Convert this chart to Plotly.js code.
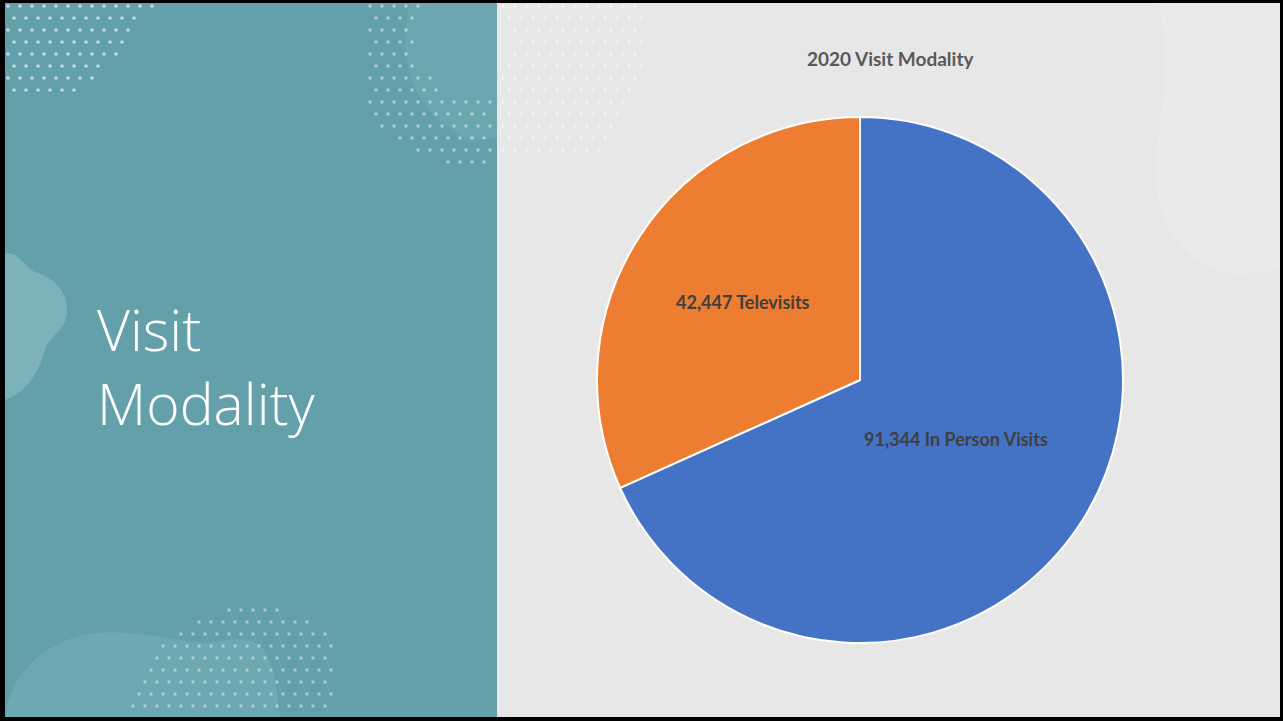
<!DOCTYPE html>
<html>
<head>
<meta charset="utf-8">
<script src="https://cdn.plot.ly/plotly-3.0.1.min.js"></script>
<style>
  html, body { margin: 0; padding: 0; background: #000; }
  #chart { width: 1283px; height: 721px; }
</style>
</head>
<body>
<div id="chart"></div>
<script>
// ---- data ----
const chartTitle = "2020 Visit Modality";
const slideTitle = ["Visit", "Modality"];
const categories = ["In Person Visits", "Televisits"];
const visitCounts = [91344, 42447];
const sliceColors = ["#4472C4", "#ED7D31"];

// ---- layout helpers (pixel -> paper) ----
const W = 1283, H = 721;
const px = x => x / W;
const py = y => 1 - y / H;

const shapes = [];
// slide border / backgrounds
shapes.push({type: "rect", xref: "paper", yref: "paper", x0: 0, x1: 1, y0: 0, y1: 1, fillcolor: "#000000", line: {width: 0}, layer: "below"});
shapes.push({type: "rect", xref: "paper", yref: "paper", x0: px(5), x1: px(1280), y0: py(717), y1: py(3), fillcolor: "#E7E7E7", line: {width: 0}, layer: "below"});
// light blob on the grey panel (right)
shapes.push({type: "path", xref: "paper", yref: "paper", layer: "below", fillcolor: "#EAEAEA", line: {width: 0},
  path: `M ${px(1157)} ${py(3)} C ${px(1170)} ${py(40)}, ${px(1165)} ${py(90)}, ${px(1158)} ${py(140)} C ${px(1150)} ${py(200)}, ${px(1165)} ${py(260)}, ${px(1235)} ${py(275)} L ${px(1280)} ${py(270)} L ${px(1280)} ${py(3)} Z`});
// teal panel
shapes.push({type: "rect", xref: "paper", yref: "paper", x0: px(5), x1: px(497), y0: py(717), y1: py(3), fillcolor: "#64A0AA", line: {width: 0}, layer: "below"});
// lighter blobs on teal panel
shapes.push({type: "path", xref: "paper", yref: "paper", layer: "below", fillcolor: "#7EB2BA", line: {width: 0},
  path: `M ${px(5)} ${py(253)} C ${px(20)} ${py(252)}, ${px(25)} ${py(268)}, ${px(35)} ${py(272)} C ${px(55)} ${py(278)}, ${px(68)} ${py(292)}, ${px(67)} ${py(312)} C ${px(66)} ${py(330)}, ${px(50)} ${py(335)}, ${px(45)} ${py(350)} C ${px(38)} ${py(375)}, ${px(25)} ${py(393)}, ${px(5)} ${py(400)} Z`});
shapes.push({type: "path", xref: "paper", yref: "paper", layer: "below", fillcolor: "#6EA8B1", line: {width: 0},
  path: `M ${px(6)} ${py(717)} C ${px(8)} ${py(680)}, ${px(40)} ${py(640)}, ${px(95)} ${py(633)} C ${px(140)} ${py(630)}, ${px(180)} ${py(642)}, ${px(205)} ${py(643)} C ${px(235)} ${py(640)}, ${px(265)} ${py(625)}, ${px(275)} ${py(680)} L ${px(280)} ${py(717)} Z`});
shapes.push({type: "path", xref: "paper", yref: "paper", layer: "below", fillcolor: "#6CA7B0", line: {width: 0},
  path: `M ${px(410)} ${py(3)} C ${px(400)} ${py(40)}, ${px(400)} ${py(110)}, ${px(470)} ${py(140)} L ${px(497)} ${py(138)} L ${px(497)} ${py(3)} Z`});

// decorative dot fields (procedural)
function dotField(cx, cy, rIn, rOut, xmin, xmax, ymin, ymax, color) {
  for (let y = ymin; y <= ymax; y += 12) {
    const off = (Math.round((y - ymin) / 12) % 2) * 6;
    for (let x = xmin + off; x <= xmax; x += 12) {
      const d = Math.hypot(x - cx, y - cy);
      if (d >= rIn && d <= rOut) {
        shapes.push({type: "circle", xref: "paper", yref: "paper", layer: "below",
          x0: px(x - 1.8), x1: px(x + 1.8), y0: py(y + 1.8), y1: py(y - 1.8),
          fillcolor: color, line: {width: 0}});
      }
    }
  }
}
dotField(-40, -90, 0, 215, 8, 170, 6, 100, "rgba(230,240,242,0.75)");
dotField(470, 40, 55, 125, 370, 494, 6, 165, "rgba(230,240,242,0.55)");
dotField(250, 735, 0, 128, 85, 335, 610, 714, "rgba(230,240,242,0.5)");
dotField(470, 40, 40, 175, 503, 660, 6, 160, "rgba(255,255,255,0.5)");

// ---- annotations ----
const fmt = v => v.toLocaleString("en-US");
const labelPos = [[956, 439], [743, 302]];
const annotations = [];
annotations.push({xref: "paper", yref: "paper", x: px(890), y: py(59), xanchor: "center", yanchor: "middle", showarrow: false,
  text: chartTitle, font: {family: "Lato, 'Open Sans', sans-serif", size: 19, color: "#595959", weight: 700}});
categories.forEach((c, i) => {
  annotations.push({xref: "paper", yref: "paper", x: px(labelPos[i][0]), y: py(labelPos[i][1]), xanchor: "center", yanchor: "middle", showarrow: false,
    text: fmt(visitCounts[i]) + " " + c, font: {family: "Lato, 'Open Sans', sans-serif", size: 18, color: "#404040", weight: 700}});
});
annotations.push({xref: "paper", yref: "paper", x: px(95), y: py(366), xanchor: "left", yanchor: "middle", align: "left", showarrow: false,
  text: slideTitle.join("<br>"), font: {family: "'Open Sans', sans-serif", size: 57, color: "#FFFFFF", weight: 300}});

const trace = {
  type: "pie",
  labels: categories,
  values: visitCounts,
  marker: {colors: sliceColors, line: {color: "#FFFFFF", width: 2}},
  direction: "clockwise",
  rotation: 0,
  sort: false,
  textinfo: "none",
  hoverinfo: "label+value+percent",
  domain: {x: [px(597), px(1123)], y: [py(643), py(117)]},
  showlegend: false
};

const layout = {
  width: W, height: H,
  margin: {l: 0, r: 0, t: 0, b: 0},
  paper_bgcolor: "#000000",
  shapes: shapes,
  annotations: annotations,
  showlegend: false
};

Plotly.newPlot("chart", [trace], layout, {displayModeBar: false, staticPlot: true});
</script>
</body>
</html>
